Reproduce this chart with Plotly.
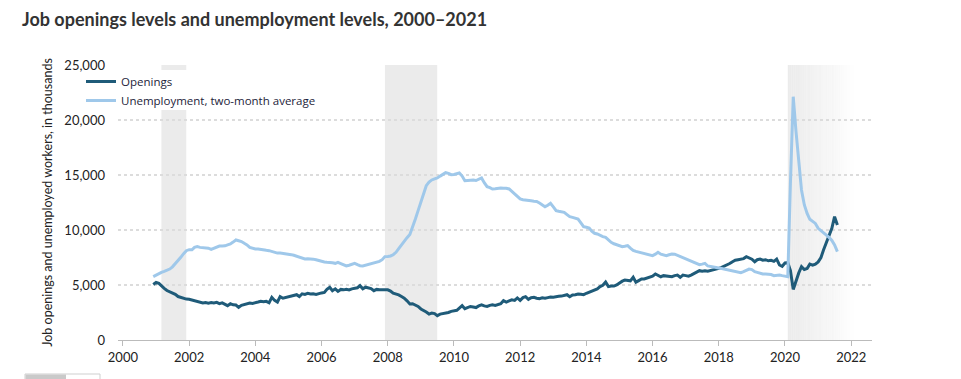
import plotly.graph_objects as go
import pandas as pd

# ---------------- data (thousands), monthly Dec 2000 - Aug 2021 ----------------
start_month = "2000-12-01"

openings = [
    5050,
    5240, 5150, 4900, 4700, 4500, 4380, 4300, 4150, 3950, 3850, 3750, 3720,   # 2001
    3700, 3640, 3560, 3480, 3420, 3360, 3400, 3340, 3400, 3360, 3420, 3300,   # 2002
    3380, 3250, 3120, 3300, 3200, 3180, 2970, 3150, 3220, 3280, 3360, 3330,   # 2003
    3420, 3450, 3520, 3480, 3515, 3380, 3880, 3600, 3450, 3940, 3800, 3870,   # 2004
    3950, 4000, 4050, 4120, 3950, 4200, 4150, 4250, 4180, 4200, 4150, 4250,   # 2005
    4280, 4330, 4600, 4790, 4480, 4650, 4420, 4600, 4560, 4620, 4550, 4650,   # 2006
    4700, 4750, 4940, 4650, 4800, 4750, 4680, 4480, 4600, 4560, 4600, 4575,   # 2007
    4560, 4450, 4250, 4180, 4100, 3950, 3800, 3560, 3270, 3300, 3150, 3050,   # 2008
    2820, 2700, 2550, 2360, 2450, 2400, 2210, 2350, 2400, 2420, 2500, 2600,   # 2009
    2650, 2700, 2900, 3120, 2850, 2950, 3050, 3000, 2950, 3100, 3200, 3100,   # 2010
    3050, 3150, 3200, 3150, 3200, 3300, 3575, 3450, 3550, 3650, 3600, 3820,   # 2011
    3600, 3850, 3940, 3700, 3850, 3880, 3800, 3750, 3830, 3800, 3850, 3900,   # 2012
    3880, 3950, 3970, 3990, 4050, 4120, 3940, 4100, 4120, 4180, 4150, 4120,   # 2013
    4250, 4350, 4450, 4570, 4650, 4850, 4970, 5270, 4850, 4900, 4900, 5000,   # 2014
    5200, 5350, 5450, 5400, 5380, 5700, 5250, 5400, 5550, 5550, 5650, 5700,   # 2015
    5800, 6000, 5850, 5750, 5850, 5800, 5820, 5750, 5850, 5900, 5700, 5900,   # 2016
    5850, 5800, 5900, 6050, 6200, 6300, 6250, 6300, 6250, 6300, 6350, 6400,   # 2017
    6515, 6600, 6700, 6820, 6950, 7120, 7250, 7300, 7330, 7400, 7575, 7450,   # 2018
    7350, 7120, 7300, 7350, 7250, 7300, 7200, 7250, 7150, 7350, 6820, 6700,   # 2019
    7000, 7030, 6300, 4600, 5400, 6100, 6670, 6400, 6500, 6900, 6800, 6900,   # 2020
    7100, 7500, 8180, 8800, 9390, 10150, 11210, 10450,                         # 2021
]

unemployment = [
    5760,
    5900, 6060, 6150, 6240, 6320, 6450, 6650, 6910, 7200, 7515, 7850, 8120,   # 2001
    8210, 8200, 8420, 8485, 8420, 8400, 8380, 8350, 8240, 8330, 8450, 8545,   # 2002
    8550, 8560, 8650, 8730, 8900, 9090, 9020, 8950, 8790, 8650, 8420, 8350,   # 2003
    8270, 8280, 8260, 8200, 8150, 8120, 8050, 7940, 7900, 7900, 7880, 7850,   # 2004
    7820, 7760, 7700, 7620, 7560, 7450, 7360, 7380, 7380, 7350, 7300, 7220,   # 2005
    7150, 7100, 7070, 7060, 7020, 6970, 7060, 6950, 6850, 6730, 6800, 6900,   # 2006
    6970, 6850, 6750, 6730, 6800, 6900, 7000, 7050, 7100, 7150, 7300, 7580,   # 2007
    7600, 7640, 7750, 7970, 8300, 8670, 9000, 9300, 9600, 10240, 11000, 11760,  # 2008
    12600, 13300, 14030, 14350, 14550, 14650, 14730, 14900, 15050, 15210, 15150, 15030,  # 2009
    15050, 15150, 15180, 14900, 14480, 14500, 14520, 14550, 14500, 14600, 14730, 14300,  # 2010
    13940, 13850, 13730, 13750, 13800, 13820, 13790, 13800, 13730, 13500, 13270, 13000,  # 2011
    12820, 12750, 12700, 12670, 12650, 12620, 12600, 12450, 12250, 12120, 12250, 12420,  # 2012
    12100, 11760, 11700, 11650, 11600, 11400, 11210, 11150, 11050, 11000, 10650, 10300,  # 2013
    10250, 10180, 9900, 9700, 9640, 9500, 9400, 9330, 9100, 8880, 8750, 8650,  # 2014
    8550, 8480, 8520, 8580, 8350, 8150, 8060, 8000, 7950, 7880, 7850, 7750,   # 2015
    7670, 7800, 7970, 7800, 7700, 7670, 7750, 7820, 7800, 7700, 7550, 7450,   # 2016
    7400, 7300, 7210, 7100, 7000, 6850, 6900, 6970, 6730, 6700, 6650, 6600,   # 2017
    6550, 6500, 6450, 6400, 6330, 6270, 6200, 6150, 6120, 6210, 6350, 6450,   # 2018
    6400, 6210, 6150, 6050, 6000, 5990, 5970, 5950, 5850, 5880, 5910, 5850,   # 2019
    5780, 5760, 14300, 22120, 19000, 16060, 13640, 12300, 11500, 10970, 10750, 10600,  # 2020
    10150, 9950, 9800, 9600, 9330, 9050, 8640, 8030,                           # 2021
]

recessions = [("2001-03-01", "2001-11-30"), ("2007-12-01", "2009-06-30")]
covid_start = "2020-02-01"
covid_fade_end = "2022-02-01"

series_names = ["Openings", "Unemployment, two-month average"]
y_tick_values = [0, 5000, 10000, 15000, 20000, 25000]

dates = pd.date_range(start_month, periods=len(openings), freq="MS")

# ---------------- figure ----------------
W, H = 961, 379
OFF = 8  # page body offset
# plot area in screen pixels: x 118..872, y 65..340
ML, MR, MT, MB = 118 - OFF, W - (872 - OFF), 65 - OFF, H - (340 - OFF)
x_range = ["1999-11-08", "2022-08-18"]

OPEN_C = "#1f5b79"
UNEMP_C = "#9fc8ea"
SHADE = (235, 235, 235)
FONT = "Lato"


def px_x(p):  # screen px -> paper x
    return (p - OFF - ML) / (W - ML - MR)


def px_y(p):  # screen px -> paper y
    return (H - MB - (p - OFF)) / (H - MT - MB)


fig = go.Figure()
fig.add_trace(go.Scatter(x=dates, y=openings, name=series_names[0], mode="lines",
                         line=dict(color=OPEN_C, width=3)))
fig.add_trace(go.Scatter(x=dates, y=unemployment, name=series_names[1], mode="lines",
                         line=dict(color=UNEMP_C, width=3)))

shapes = []
for a, b in recessions:
    shapes.append(dict(type="rect", xref="x", yref="paper", x0=a, x1=b, y0=0, y1=1,
                       fillcolor="rgb(%d,%d,%d)" % SHADE, line=dict(width=0), layer="below"))

# fading shade for the 2020 recession
g0 = pd.Timestamp(covid_start)
g1 = pd.Timestamp(covid_fade_end)
n = 36
step = (g1 - g0) / n
for i in range(n):
    a = g0 + step * i
    b = g0 + step * (i + 1) + pd.Timedelta(days=2)
    op = 1 - i / n
    shapes.append(dict(type="rect", xref="x", yref="paper", x0=a, x1=b, y0=0, y1=1,
                       fillcolor="rgba(%d,%d,%d,%.3f)" % (SHADE + (op,)),
                       line=dict(width=0), layer="below"))

# white background behind the legend
shapes.append(dict(type="rect", xref="paper", yref="paper", x0=px_x(98), x1=px_x(340),
                   y0=px_y(110), y1=px_y(70), fillcolor="white", line=dict(width=0),
                   layer="below"))

# page scrollbar stub at bottom-left
shapes.append(dict(type="rect", xref="paper", yref="paper", x0=px_x(25), x1=px_x(100),
                   y0=px_y(392), y1=px_y(374), fillcolor="white",
                   line=dict(color="#cfcfcf", width=1)))
shapes.append(dict(type="rect", xref="paper", yref="paper", x0=px_x(25.5), x1=px_x(66),
                   y0=px_y(392), y1=px_y(374.5), fillcolor="#c9c9c9", line=dict(width=0)))

fig.update_layout(
    width=W, height=H,
    margin=dict(l=ML, r=MR, t=MT, b=MB),
    paper_bgcolor="white", plot_bgcolor="white",
    font=dict(family=FONT, size=13, color="#222"),
    title=dict(text="<b>Job openings levels and unemployment levels, 2000–2021</b>",
               x=(22 - OFF) / W, xref="container", xanchor="left",
               y=1 - (20 - OFF) / H, yref="container", yanchor="middle",
               font=dict(family=FONT, size=18, color="#333")),
    showlegend=True,
    legend=dict(x=px_x(81), xanchor="left", y=px_y(67), yanchor="top",
                bgcolor="rgba(0,0,0,0)", borderwidth=0,
                font=dict(family="Open Sans", size=11.5, color="#1d1d3a"),
                itemwidth=30, tracegroupgap=0),
    shapes=shapes,
    xaxis=dict(type="date", range=x_range, dtick="M24", tick0="2000-01-01",
               tickformat="%Y", showgrid=False, showline=True, linecolor="#bbbbbb",
               linewidth=1, ticks="outside", ticklen=5, tickcolor="#bbbbbb",
               zeroline=False, tickfont=dict(size=13, color="#222")),
    yaxis=dict(range=[0, 25000], tickvals=y_tick_values, tickformat=",",
               showgrid=True, gridcolor="#dcdcdc", gridwidth=1.5, griddash="dot",
               zeroline=False, showline=False, ticks="", ticklabelstandoff=12,
               tickfont=dict(size=13, color="#222"),
               title=dict(text="Job openings and unemployed workers, in thousands",
                          font=dict(size=12.5, color="#222"), standoff=8)),
)

fig.write_html("out.html")
